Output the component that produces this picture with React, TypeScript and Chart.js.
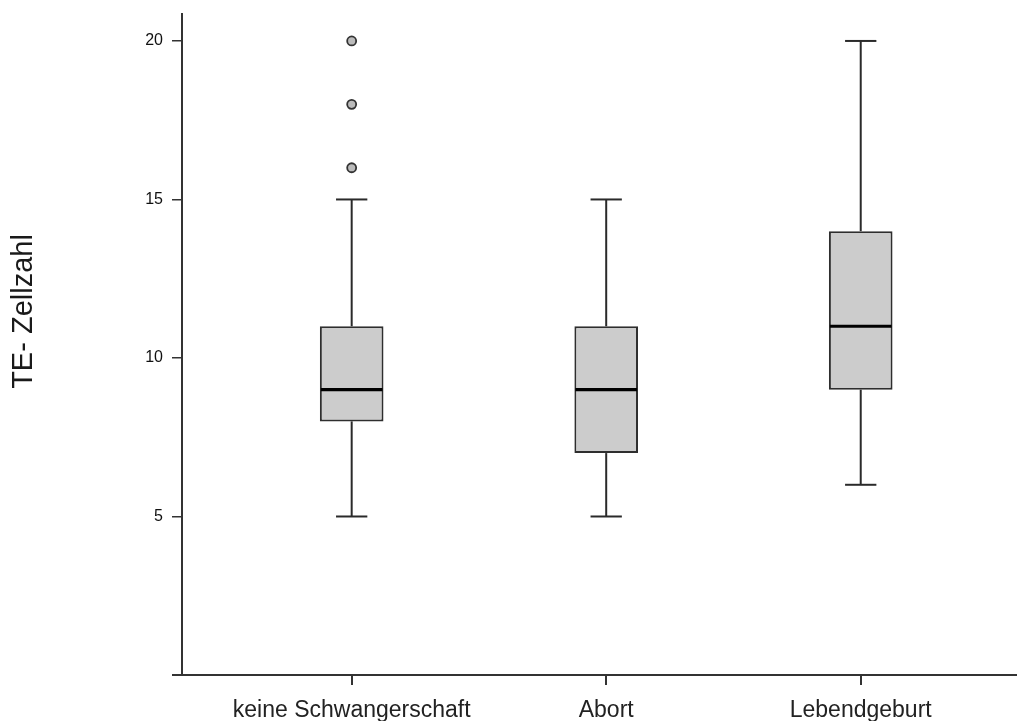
import React, { useEffect, useRef } from "react";
import { Chart, registerables } from "chart.js";

Chart.register(...registerables);

const categories = ["keine Schwangerschaft", "Abort", "Lebendgeburt"];
const positions = [1, 2, 3];
const whiskerLow = [5, 5, 6];
const q1 = [8, 7, 9];
const median = [9, 9, 11];
const q3 = [11, 11, 14];
const whiskerHigh = [15, 15, 20];
const outlierGroup = [1, 1, 1];
const outlierValues = [16, 18, 20];
const yTicks = [5, 10, 15, 20];
const yTitle = "TE- Zellzahl";

const FONT = "'Liberation Sans', Arial, sans-serif";

const zeroPad = (scale: any) => {
  scale.paddingLeft = 0;
  scale.paddingRight = 0;
  scale.paddingTop = 0;
  scale.paddingBottom = 0;
};

const boxPlugin = {
  id: "boxExtras",
  afterDatasetsDraw(chart: any) {
    const { ctx, scales, chartArea } = chart;
    const xs = scales.x;
    const ys = scales.y;
    const unit = xs.getPixelForValue(2) - xs.getPixelForValue(1);
    const capHalf = unit * 0.0615;
    const boxHalf = unit * 0.125;
    ctx.save();
    ctx.lineCap = "butt";
    positions.forEach((p, i) => {
      const cx = xs.getPixelForValue(p);
      ctx.strokeStyle = "#2a2a2a";
      ctx.lineWidth = 2;
      ctx.beginPath();
      ctx.moveTo(cx, ys.getPixelForValue(q3[i]));
      ctx.lineTo(cx, ys.getPixelForValue(whiskerHigh[i]));
      ctx.stroke();
      ctx.beginPath();
      ctx.moveTo(cx, ys.getPixelForValue(q1[i]));
      ctx.lineTo(cx, ys.getPixelForValue(whiskerLow[i]));
      ctx.stroke();
      [whiskerHigh[i], whiskerLow[i]].forEach((v) => {
        const y = ys.getPixelForValue(v);
        ctx.beginPath();
        ctx.moveTo(cx - capHalf, y);
        ctx.lineTo(cx + capHalf, y);
        ctx.stroke();
      });
      ctx.strokeStyle = "#000";
      ctx.lineWidth = 3.2;
      const my = ys.getPixelForValue(median[i]);
      ctx.beginPath();
      ctx.moveTo(cx - boxHalf + 1, my);
      ctx.lineTo(cx + boxHalf - 1, my);
      ctx.stroke();
    });
    ctx.strokeStyle = "#333";
    ctx.lineWidth = 2;
    ctx.beginPath();
    ctx.moveTo(chartArea.left - 10, chartArea.bottom);
    ctx.lineTo(chartArea.left, chartArea.bottom);
    ctx.stroke();
    ctx.save();
    ctx.translate(24, chartArea.top + 297.5);
    ctx.rotate(-Math.PI / 2);
    ctx.fillStyle = "#1a1a1a";
    ctx.font = `29px ${FONT}`;
    ctx.textAlign = "center";
    ctx.textBaseline = "middle";
    ctx.fillText(yTitle, 0, 0);
    ctx.restore();
    ctx.restore();
  },
};

export default function App() {
  const ref = useRef<HTMLCanvasElement>(null);
  useEffect(() => {
    if (!ref.current) return;
    const chart = new Chart(ref.current, {
      type: "bar",
      data: {
        datasets: [
          {
            type: "bar",
            data: positions.map((p, i) => ({ x: p, y: [q1[i], q3[i]] })) as any,
            backgroundColor: "#cccccc",
            borderColor: "#2e2e2e",
            borderWidth: 2,
            borderSkipped: false,
            barPercentage: 0.25,
            categoryPercentage: 1,
          } as any,
          {
            type: "scatter",
            data: outlierValues.map((v, i) => ({ x: outlierGroup[i], y: v })),
            backgroundColor: "#bbbbbb",
            borderColor: "#333333",
            borderWidth: 1.8,
            pointRadius: 4.5,
          } as any,
        ],
      },
      options: {
        responsive: false,
        animation: false,
        layout: { autoPadding: false, padding: { top: 14, left: 0, right: 0, bottom: 0 } },
        plugins: {
          legend: { display: false },
          tooltip: { enabled: false },
          title: { display: false },
        },
        scales: {
          x: {
            type: "linear",
            min: 1 / 3,
            max: 3.614,
            offset: false,
            grid: {
              offset: false,
              display: true,
              drawOnChartArea: false,
              drawTicks: true,
              tickLength: 10,
              color: "#333",
              lineWidth: 2,
            },
            border: { display: true, color: "#333", width: 2 },
            afterBuildTicks: (scale: any) => {
              scale.ticks = positions.map((v) => ({ value: v }));
            },
            afterFit: (scale: any) => {
              scale.height = 46;
              zeroPad(scale);
            },
            ticks: {
              autoSkip: false,
              maxRotation: 0,
              padding: 12,
              color: "#222",
              font: { family: FONT, size: 23 },
              callback: (v: any) => categories[positions.indexOf(Number(v))] ?? "",
            },
          },
          y: {
            type: "linear",
            min: 0,
            max: 20.85,
            grid: {
              display: true,
              drawOnChartArea: false,
              drawTicks: true,
              tickLength: 10,
              color: "#333",
              lineWidth: 1.5,
            },
            border: { display: true, color: "#333", width: 2 },
            afterBuildTicks: (scale: any) => {
              scale.ticks = yTicks.map((v) => ({ value: v }));
            },
            afterFit: (scale: any) => {
              scale.width = 182;
              zeroPad(scale);
            },
            ticks: {
              padding: 9,
              color: "#111",
              font: { family: FONT, size: 16 },
            },
          },
        },
      } as any,
      plugins: [boxPlugin],
    });
    return () => chart.destroy();
  }, []);
  return (
    <div style={{ position: "absolute", left: 0, top: 0, width: 1017, height: 721, background: "#fff" }}>
      <canvas ref={ref} width={1017} height={721} />
    </div>
  );
}
